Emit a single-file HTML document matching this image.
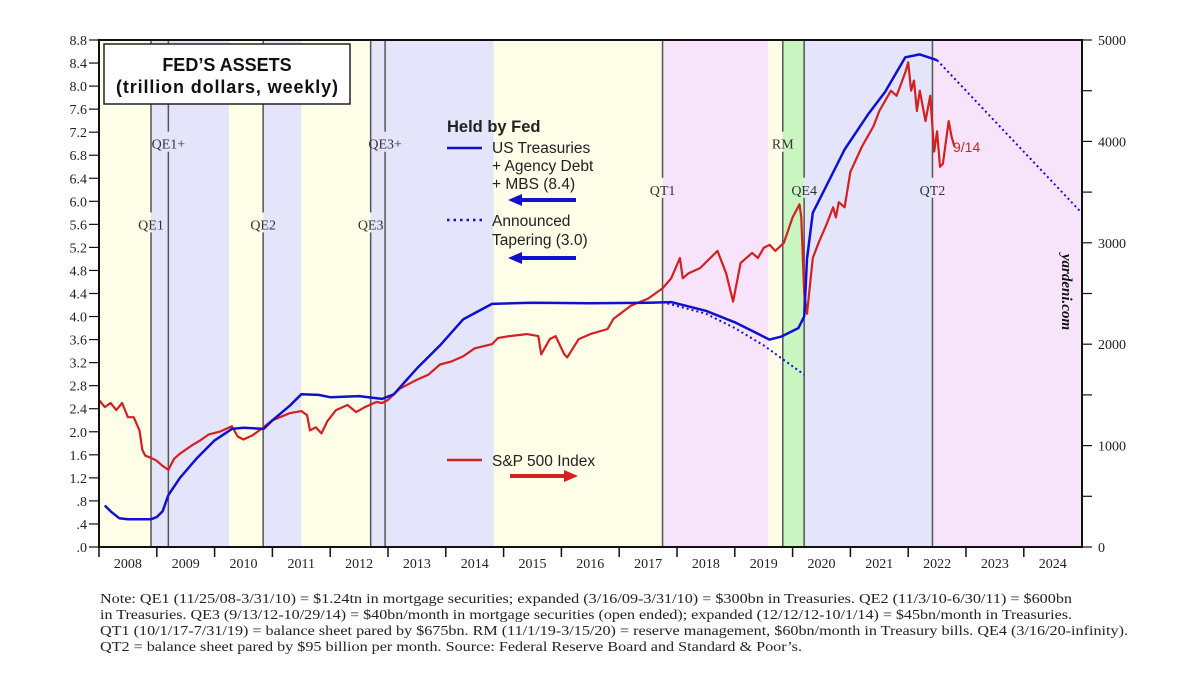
<!DOCTYPE html>
<html><head><meta charset="utf-8"><style>
body{margin:0;background:#fff;width:1200px;height:680px;overflow:hidden}
svg text{font-family:"Liberation Serif",serif}
</style></head><body>
<svg id="chart" width="1200" height="680" xmlns="http://www.w3.org/2000/svg">
<g id="bands"></g>
<g id="vlines"></g>
<g id="series"></g>
<g id="axes"></g>
<g>
<rect x="104" y="44" width="246" height="60" fill="#fff" stroke="#222" stroke-width="1.5"/>
<text x="227" y="71" text-anchor="middle" font-size="18" font-weight="bold" fill="#111" style="font-family:'Liberation Sans',sans-serif">FED’S ASSETS</text>
<text x="227" y="93" text-anchor="middle" font-size="18" font-weight="bold" fill="#111" textLength="222" style="font-family:'Liberation Sans',sans-serif">(trillion dollars, weekly)</text>
</g>
<g font-size="15.5" fill="#222">
<text x="447" y="132" font-weight="bold" font-size="16.5" style="font-family:'Liberation Sans',sans-serif">Held by Fed</text>
<line x1="447" y1="148" x2="482" y2="148" stroke="#1010d0" stroke-width="2.5"/>
<text x="492" y="153" style="font-family:'Liberation Sans',sans-serif">US Treasuries</text>
<text x="492" y="171" style="font-family:'Liberation Sans',sans-serif">+ Agency Debt</text>
<text x="492" y="189" style="font-family:'Liberation Sans',sans-serif">+ MBS (8.4)</text>
<line x1="516" y1="200" x2="576" y2="200" stroke="#1010d0" stroke-width="4"/>
<polygon points="508,200 522,194 522,206" fill="#1010d0"/>
<line x1="447" y1="220" x2="482" y2="220" stroke="#1010d0" stroke-width="2.5" stroke-dasharray="2.5,4"/>
<text x="492" y="226" style="font-family:'Liberation Sans',sans-serif">Announced</text>
<text x="492" y="245" style="font-family:'Liberation Sans',sans-serif">Tapering (3.0)</text>
<line x1="516" y1="258" x2="576" y2="258" stroke="#1010d0" stroke-width="4"/>
<polygon points="508,258 522,252 522,264" fill="#1010d0"/>
<line x1="447" y1="460" x2="482" y2="460" stroke="#d42020" stroke-width="2.5"/>
<text x="492" y="466" style="font-family:'Liberation Sans',sans-serif">S&amp;P 500 Index</text>
<line x1="510" y1="476" x2="568" y2="476" stroke="#d42020" stroke-width="4"/>
<polygon points="578,476 564,470 564,482" fill="#d42020"/>
</g>
<text x="953" y="152" font-size="14" fill="#d42020" style="font-family:'Liberation Sans',sans-serif">9/14</text>
<text transform="translate(1062,292) rotate(90)" text-anchor="middle" font-size="15" font-style="italic" font-weight="bold" fill="#111">yardeni.com</text>
<g font-size="14" fill="#222">
<text x="100" y="603" textLength="972" lengthAdjust="spacingAndGlyphs">Note: QE1 (11/25/08-3/31/10) = $1.24tn in mortgage securities; expanded (3/16/09-3/31/10) = $300bn in Treasuries. QE2 (11/3/10-6/30/11) = $600bn</text>
<text x="100" y="619" textLength="972" lengthAdjust="spacingAndGlyphs">in Treasuries. QE3 (9/13/12-10/29/14) = $40bn/month in mortgage securities (open ended); expanded (12/12/12-10/1/14) = $45bn/month in Treasuries.</text>
<text x="100" y="635" textLength="1028" lengthAdjust="spacingAndGlyphs">QT1 (10/1/17-7/31/19) = balance sheet pared by $675bn. RM (11/1/19-3/15/20) = reserve management, $60bn/month in Treasury bills. QE4 (3/16/20-infinity).</text>
<text x="100" y="651" textLength="702" lengthAdjust="spacingAndGlyphs">QT2 = balance sheet pared by $95 billion per month. Source: Federal Reserve Board and Standard &amp; Poor’s.</text>
</g>
</svg>
<script>
const yearLabels=[2008,2009,2010,2011,2012,2013,2014,2015,2016,2017,2018,2019,2020,2021,2022,2023,2024];
const leftTicks=[0,0.4,0.8,1.2,1.6,2.0,2.4,2.8,3.2,3.6,4.0,4.4,4.8,5.2,5.6,6.0,6.4,6.8,7.2,7.6,8.0,8.4,8.8];
const rightTicks=[0,1000,2000,3000,4000,5000];
const bandStarts=[2008.0,2008.9,2010.25,2010.84,2011.5,2012.7,2014.83,2017.75,2019.58,2019.83,2020.2,2022.42];
const bandEnds=[2008.9,2010.25,2010.84,2011.5,2012.7,2014.83,2017.75,2019.58,2019.83,2020.2,2022.42,2025.0];
const bandColors=["#fdfde8","#e4e4fa","#fdfde8","#e4e4fa","#fdfde8","#e4e4fa","#fdfde8","#f8e4fa","#fdfde8","#c8f5c0","#e4e4fa","#f8e4fa"];
const policyNames=["QE1","QE1+","QE2","QE3","QE3+","QT1","RM","QE4","QT2"];
const policyDates=[2008.9,2009.2,2010.84,2012.7,2012.95,2017.75,2019.83,2020.2,2022.42];
const policyLabelY=[5.6,7.0,5.6,5.6,7.0,6.2,7.0,6.2,6.2];
const fedT=[2008.1,2008.2,2008.35,2008.5,2008.9,2009.0,2009.1,2009.2,2009.4,2009.7,2010.0,2010.3,2010.5,2010.85,2011.0,2011.3,2011.5,2011.8,2012.0,2012.5,2012.9,2013.1,2013.5,2013.9,2014.3,2014.8,2015.5,2016.5,2017.5,2017.9,2018.5,2019.0,2019.4,2019.6,2019.8,2020.1,2020.2,2020.25,2020.35,2020.6,2020.9,2021.3,2021.6,2021.95,2022.2,2022.5];
const fedV=[0.72,0.62,0.5,0.48,0.48,0.52,0.62,0.9,1.2,1.55,1.85,2.05,2.07,2.05,2.2,2.45,2.65,2.64,2.6,2.62,2.57,2.65,3.1,3.5,3.95,4.22,4.24,4.23,4.24,4.25,4.1,3.9,3.7,3.6,3.65,3.8,4.0,5.0,5.8,6.3,6.9,7.5,7.9,8.5,8.55,8.45];
const projT=[2022.5,2025.0];
const projV=[8.45,5.8];
const taperT=[2017.75,2018.5,2019.0,2019.5,2020.2];
const taperV=[4.25,4.05,3.8,3.5,2.99];
const spT=[2008.0,2008.1,2008.2,2008.3,2008.4,2008.5,2008.6,2008.7,2008.75,2008.8,2008.9,2009.0,2009.1,2009.2,2009.3,2009.4,2009.5,2009.6,2009.75,2009.9,2010.1,2010.3,2010.4,2010.5,2010.65,2010.8,2011.0,2011.3,2011.5,2011.6,2011.65,2011.75,2011.85,2011.95,2012.1,2012.3,2012.45,2012.6,2012.8,2012.9,2013.0,2013.2,2013.5,2013.7,2013.9,2014.1,2014.3,2014.5,2014.8,2014.9,2015.1,2015.4,2015.6,2015.65,2015.8,2015.9,2016.05,2016.1,2016.3,2016.5,2016.8,2016.9,2017.2,2017.5,2017.75,2017.9,2018.05,2018.1,2018.2,2018.4,2018.7,2018.85,2018.97,2019.1,2019.3,2019.4,2019.5,2019.6,2019.7,2019.85,2020.0,2020.12,2020.15,2020.2,2020.25,2020.35,2020.45,2020.6,2020.7,2020.75,2020.8,2020.9,2021.0,2021.2,2021.4,2021.5,2021.7,2021.8,2021.95,2022.0,2022.05,2022.1,2022.15,2022.2,2022.3,2022.38,2022.45,2022.5,2022.55,2022.6,2022.7,2022.75,2022.8];
const spV=[1450,1380,1420,1350,1420,1280,1280,1150,960,900,880,850,800,760,870,920,960,1000,1050,1110,1140,1190,1090,1060,1100,1160,1250,1320,1340,1300,1150,1180,1120,1240,1350,1400,1330,1380,1430,1420,1450,1560,1650,1700,1800,1830,1880,1960,2000,2060,2080,2100,2080,1900,2050,2080,1900,1870,2050,2100,2150,2250,2380,2450,2550,2650,2850,2650,2700,2750,2920,2700,2420,2800,2900,2850,2950,2980,2920,3000,3250,3380,3250,2500,2300,2850,3000,3200,3350,3250,3400,3350,3700,3950,4150,4300,4500,4450,4680,4780,4500,4600,4300,4500,4200,4450,3900,4100,3750,3780,4200,4050,3950];

const NS="http://www.w3.org/2000/svg";
const X0=99,YW=57.8,YB=547,YT=40;
const x=t=>X0+(t-2008)*YW;
const yL=v=>YB-v*(YB-YT)/8.8;
const yR=v=>YB-v*(YB-YT)/5000;
const XR=1082;
function mk(tag,attrs,parent){const e=document.createElementNS(NS,tag);for(const k in attrs)e.setAttribute(k,attrs[k]);parent.appendChild(e);return e;}
const bands=document.getElementById('bands'),vl=document.getElementById('vlines'),se=document.getElementById('series'),ax=document.getElementById('axes');
bandStarts.forEach((s,i)=>{const e=Math.min(x(bandEnds[i]),XR);const r=mk('rect',{x:x(s),y:YT,width:e-x(s),height:YB-YT,fill:bandColors[i]},bands);

});
policyDates.forEach((d,i)=>{const px=x(d),ly=yL(policyLabelY[i]);
const l1=mk('line',{x1:px,y1:YT,x2:px,y2:ly-12,stroke:'#555','stroke-width':1.5},vl);


const l2=mk('line',{x1:px,y1:ly+8,x2:px,y2:YB,stroke:'#555','stroke-width':1.5},vl);


const t=mk('text',{x:px,y:ly+5,'text-anchor':'middle','font-size':14,fill:'#333'},vl);t.textContent=policyNames[i];

});
function path(T,V,f){return T.map((t,i)=>(i?'L':'M')+Math.min(x(t),XR).toFixed(1)+','+f(V[i]).toFixed(1)).join('');}
const sp=mk('path',{d:path(spT,spV,yR),fill:'none',stroke:'#d42020','stroke-width':2.2,'stroke-linejoin':'round'},se);


const tp=mk('path',{d:path(taperT,taperV,yL),fill:'none',stroke:'#1010d0','stroke-width':2,'stroke-dasharray':'2,3'},se);


const pj=mk('path',{d:path(projT,projV,yL),fill:'none',stroke:'#1010d0','stroke-width':2,'stroke-dasharray':'2,3'},se);


const fd=mk('path',{d:path(fedT,fedV,yL),fill:'none',stroke:'#1010d0','stroke-width':2.5,'stroke-linejoin':'round'},se);


const fr=mk('rect',{x:X0,y:YT,width:XR-X0,height:YB-YT,fill:'none',stroke:'#111','stroke-width':2},ax);


leftTicks.forEach(v=>{mk('line',{x1:X0-10,y1:yL(v),x2:X0,y2:yL(v),stroke:'#111','stroke-width':1.2},ax);
const t=mk('text',{x:X0-12,y:yL(v)+5,'text-anchor':'end','font-size':14,fill:'#222'},ax);
t.textContent=v===0?'.0':(v<1?'.'+Math.round(v*10):v.toFixed(1));

});
for(let v=0;v<=5000;v+=500){mk('line',{x1:XR,y1:yR(v),x2:XR+10,y2:yR(v),stroke:'#111','stroke-width':1.2},ax);}
rightTicks.forEach(v=>{const t=mk('text',{x:XR+16,y:yR(v)+5,'font-size':14,fill:'#222'},ax);t.textContent=v;

});
yearLabels.forEach(y=>{mk('line',{x1:x(y),y1:YB,x2:x(y),y2:YB+10,stroke:'#111','stroke-width':1.5},ax);
const t=mk('text',{x:x(y+0.5),y:YB+21,'text-anchor':'middle','font-size':14,fill:'#222'},ax);t.textContent=y;

});
</script>
</body></html>
